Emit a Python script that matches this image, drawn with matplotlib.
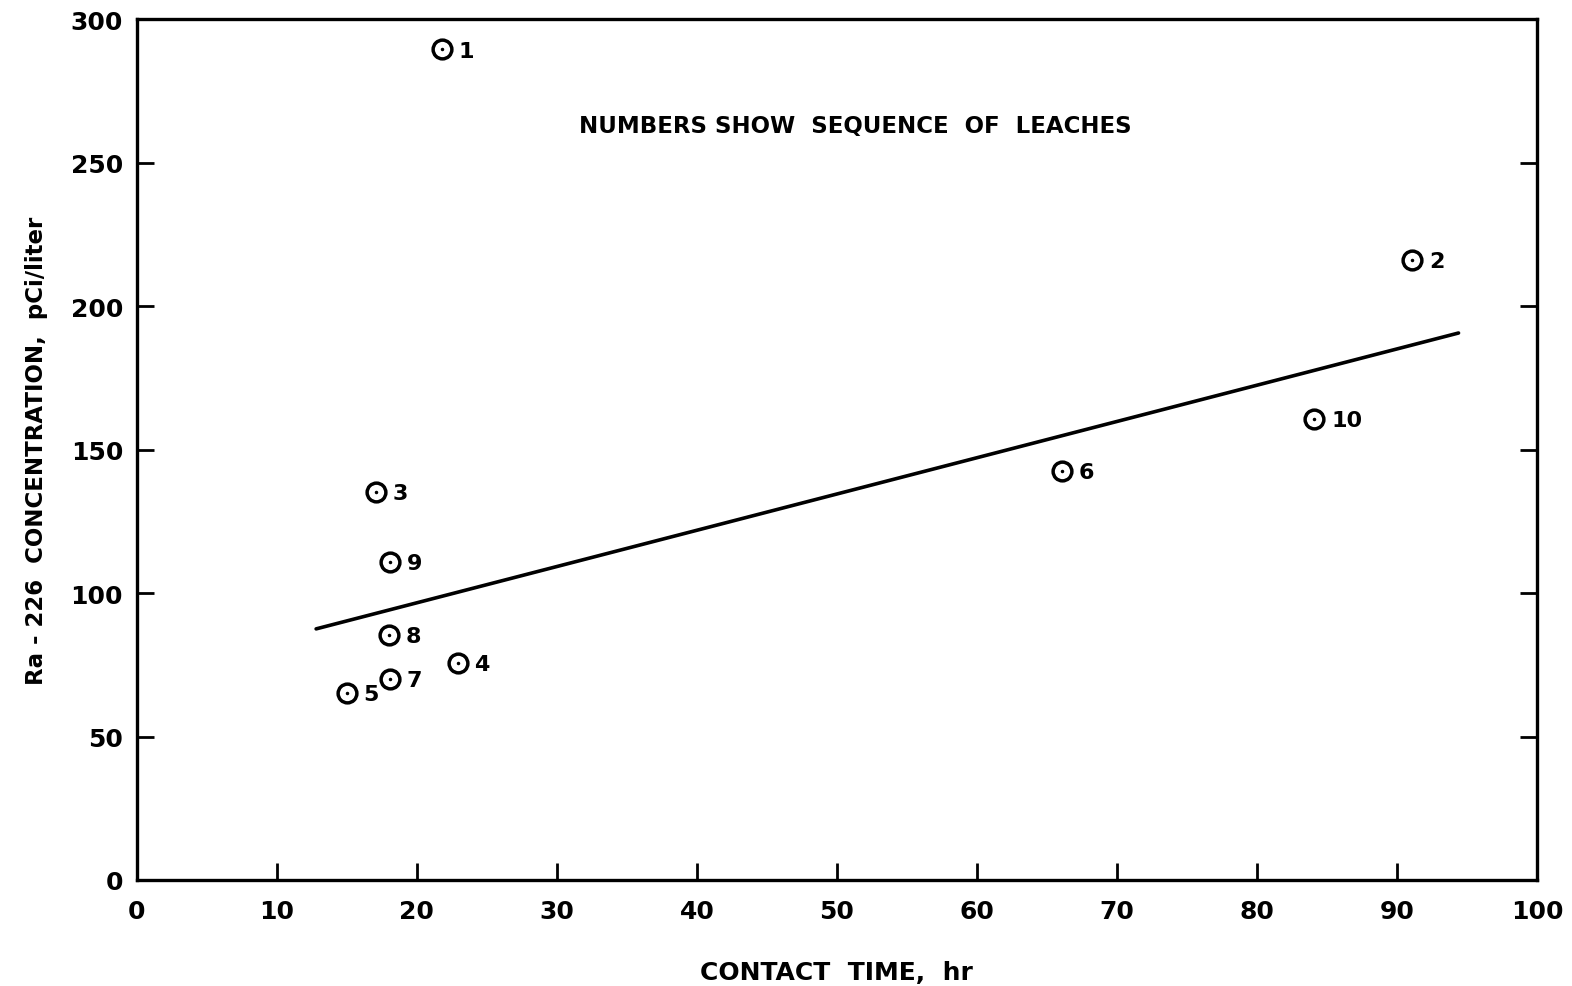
import matplotlib
matplotlib.use("Agg")
import matplotlib.pyplot as plt

# leach data
seq = ['1', '2', '3', '4', '5', '6', '7', '8', '9', '10']
hours = [21.8, 91.1, 17.1, 22.9, 15.0, 66.1, 18.1, 18.0, 18.1, 84.1]
conc = [289.5, 216.0, 135.2, 75.6, 65.2, 142.5, 70.0, 85.4, 110.8, 160.6]

# trend line ends
fit_x = [12.8, 94.4]
fit_y = [87.5, 190.6]

plt.rcParams['font.family'] = ['DejaVu Sans']

fig = plt.figure(figsize=(15.72, 9.87), dpi=100)
ax = fig.add_axes([0.0871, 0.1074, 0.8906, 0.8723])

ax.plot(fit_x, fit_y, color='black', lw=2.6, solid_capstyle='round')

ax.plot(hours, conc, 'o', ms=13.5, mfc='white', mec='black', mew=2.5)
ax.plot(hours, conc, '.', ms=3, color='black')

for s, x, y in zip(seq, hours, conc):
    ax.annotate(s, (x, y), xytext=(12, -1), textcoords='offset points',
                ha='left', va='center', fontsize=16, fontweight='bold')

ax.text(51.3, 263, 'NUMBERS SHOW  SEQUENCE  OF  LEACHES', ha='center', va='center',
        fontsize=16.5, fontweight='bold')

ax.set_xlim(0, 100)
ax.set_ylim(0, 300)
ax.set_xticks(range(0, 101, 10))
ax.set_yticks(range(0, 301, 50))
ax.tick_params(direction='in', length=12, width=2, labelsize=18, right=True, top=False)
ax.tick_params(axis='x', pad=14)
ax.tick_params(axis='y', pad=10)
for lab in ax.get_xticklabels() + ax.get_yticklabels():
    lab.set_fontweight('bold')
for sp in ax.spines.values():
    sp.set_linewidth(2.4)

ax.set_xlabel('CONTACT  TIME,  hr', fontsize=18, fontweight='bold', labelpad=26)
ax.set_ylabel('Ra - 226  CONCENTRATION,  pCi/liter', fontsize=16.5, fontweight='bold',
              labelpad=16)

fig.savefig('out.png', dpi=100)
